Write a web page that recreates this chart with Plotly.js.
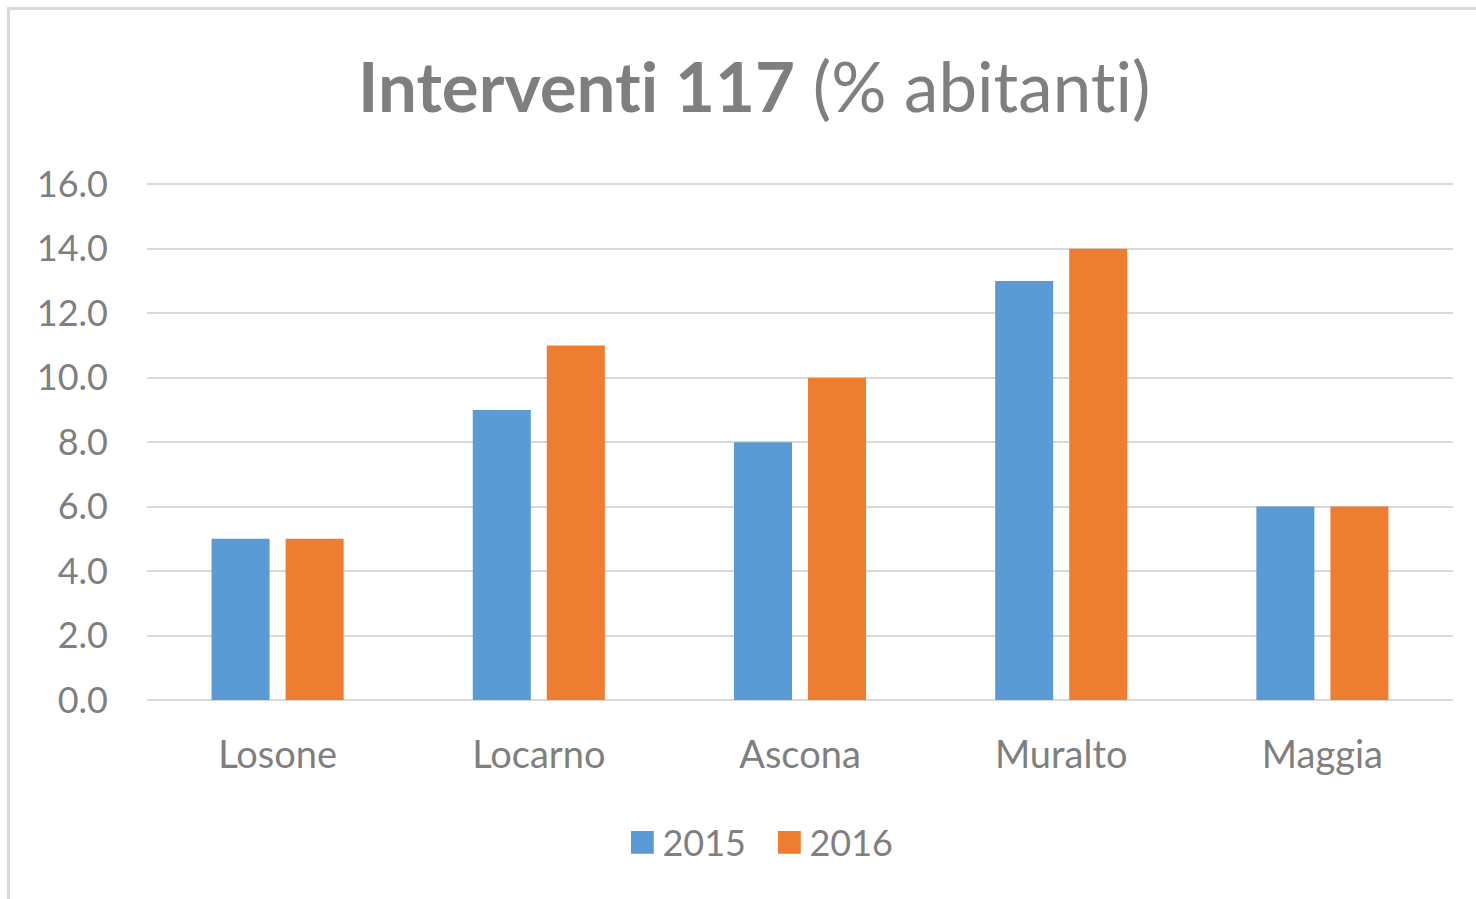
<!DOCTYPE html>
<html>
<head>
<meta charset="utf-8">
<script src="https://cdn.plot.ly/plotly-3.0.1.min.js"></script>
<style>
  html, body { margin: 0; padding: 0; background: #fff; }
  #wrap { position: relative; width: 1476px; height: 899px; overflow: hidden; }
  #frame { position: absolute; left: 7px; top: 7px; width: 1480px; height: 900px; border: 3px solid #d9d9d9; box-sizing: border-box; pointer-events: none; }
  #chart { position: absolute; left: 0; top: 0; width: 1476px; height: 899px; }
  #chart svg text { font-variant-ligatures: none; font-feature-settings: "liga" 0; }
</style>
</head>
<body>
<div id="wrap">
  <div id="chart"></div>
  <div id="frame"></div>
</div>
<script>
const categories = ["Losone", "Locarno", "Ascona", "Muralto", "Maggia"];
const series2015 = [5, 9, 8, 13, 6];
const series2016 = [5, 11, 10, 14, 6];
const seriesNames = ["2015", "2016"];
const yTickVals = [0, 2, 4, 6, 8, 10, 12, 14, 16];

const gray = "#7f7f7f";
const font = "Lato, 'Open Sans', sans-serif";

const traces = [
  { type: "bar", name: seriesNames[0], x: categories, y: series2015, marker: { color: "#5B9BD5" }, hoverinfo: "x+y+name" },
  { type: "bar", name: seriesNames[1], x: categories, y: series2016, marker: { color: "#ED7D31" }, hoverinfo: "x+y+name" }
];

const layout = {
  width: 1476, height: 899,
  paper_bgcolor: "rgba(0,0,0,0)", plot_bgcolor: "rgba(0,0,0,0)",
  margin: { l: 147, r: 23, t: 182, b: 199 },
  font: { family: font, color: gray, size: 36 },
  title: {
    text: "<b>Interventi 117</b> (% abitanti)",
    font: { family: font, size: 69, color: gray },
    xref: "container", x: 0.511, xanchor: "center",
    yref: "container", y: 0.902, yanchor: "middle"
  },
  barmode: "group",
  bargap: 0.433,
  bargroupgap: 0.216,
  xaxis: {
    type: "category",
    showgrid: false, zeroline: false, showline: false,
    ticks: "", ticklabelstandoff: 29,
    tickfont: { family: font, size: 38, color: gray }
  },
  yaxis: {
    range: [0, 16.07], tickvals: yTickVals, tickformat: ".1f",
    showgrid: true, gridcolor: "#d9d9d9", gridwidth: 2,
    zeroline: true, zerolinecolor: "#d9d9d9", zerolinewidth: 2,
    showline: false, ticks: "", ticklabelstandoff: 38,
    tickfont: { family: font, size: 36, color: gray }
  },
  showlegend: true,
  legend: {
    orientation: "h", x: 0.364, xanchor: "left", y: -0.275, yanchor: "middle",
    entrywidth: 102, entrywidthmode: "pixels",
    font: { family: font, size: 36, color: gray },
    itemclick: false, itemdoubleclick: false
  }
};

Plotly.newPlot("chart", traces, layout, { displayModeBar: false, staticPlot: true }).then(function (gd) {
  // enlarge legend swatches to match the reference's square markers
  gd.querySelectorAll(".legend .legendpoints path").forEach(function (p) {
    p.setAttribute("transform", "translate(20,0) scale(1.9)");
  });
});
</script>
</body>
</html>
